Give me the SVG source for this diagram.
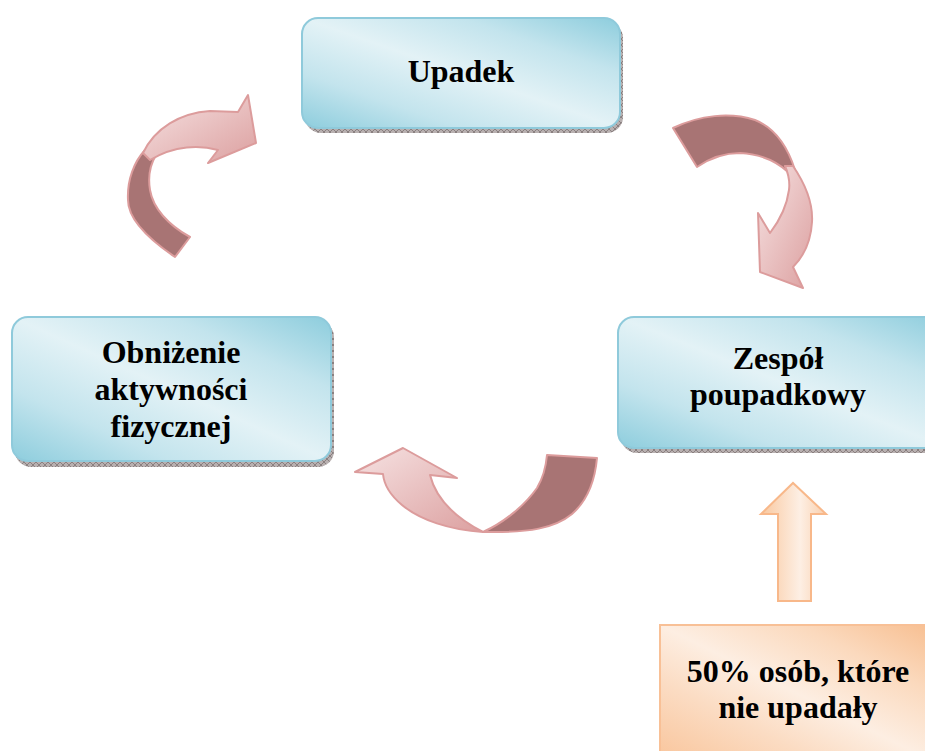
<svg xmlns="http://www.w3.org/2000/svg" width="925" height="751" viewBox="0 0 925 751">
<style>
.box{stroke:#8fcadb;stroke-width:2;fill:url(#blueG)}
.shadow{fill:url(#hatch)}
.lbl{font-family:'Liberation Serif',serif;font-weight:700;font-size:32px;fill:#000;text-anchor:middle}
.dark{fill:#a87474;stroke:#dc9c9c;stroke-width:2;stroke-linejoin:round}
.light{fill:url(#pinkG);stroke:#dc9c9c;stroke-width:2;stroke-linejoin:round}
</style>
<defs>
<linearGradient id="blueG" x1="0" y1="1" x2="1" y2="0">
<stop offset="0" stop-color="#8dcddd"/>
<stop offset="0.25" stop-color="#c3e4ed"/>
<stop offset="0.5" stop-color="#e3f2f6"/>
<stop offset="0.75" stop-color="#c3e4ed"/>
<stop offset="1" stop-color="#8dcddd"/>
</linearGradient>
<linearGradient id="orangeG" x1="0" y1="1" x2="1" y2="0">
<stop offset="0" stop-color="#f9c49a"/>
<stop offset="0.3" stop-color="#fbdcc3"/>
<stop offset="0.5" stop-color="#fdeee2"/>
<stop offset="0.75" stop-color="#fbd9bd"/>
<stop offset="1" stop-color="#f7bd8e"/>
</linearGradient>
<linearGradient id="orangeA" x1="0" y1="0" x2="1" y2="0">
<stop offset="0" stop-color="#f9c89f"/>
<stop offset="0.6" stop-color="#fdefe4"/>
<stop offset="1" stop-color="#f9cfad"/>
</linearGradient>
<linearGradient id="pinkG" x1="0" y1="0" x2="1" y2="1">
<stop offset="0" stop-color="#f6e2e2"/>
<stop offset="1" stop-color="#dca0a0"/>
</linearGradient>
<pattern id="hatch" width="6" height="6" patternUnits="userSpaceOnUse">
<rect width="6" height="6" fill="#b8b0b0"/>
<path d="M0 0L6 6M6 0L0 6" stroke="#7d7373" stroke-width="0.8"/>
</pattern>
</defs>

<g id="connectors">
<g id="arrow-left-top">
<path class="dark" d="M175,257 C150,240 128,220 128,200 C127,180 134,162 145,150 L156,155 C150,165 148,178 150,190 C153,208 168,225 190,237 Z"/>
<path class="light" d="M143,153 C155,128 180,113 210,111 L238,112 L248,95 L256,143 L208,163 L218,150 C200,145 175,145 150,160 Z"/>
</g>
<g id="arrow-right-top">
<path class="dark" d="M673,128 C700,115 730,112 755,120 C775,128 788,148 795,170 L788,172 C775,160 760,154 740,153 C725,153 710,158 697,167 Z"/>
<path class="light" d="M793,166 C806,185 813,205 812,222 C811,240 805,255 793,267 L803,288 L760,272 L758,213 L770,233 C780,220 787,205 789,190 C790,182 789,175 785,166 Z"/>
</g>
<g id="arrow-bottom">
<path class="dark" d="M547,455 L597,458 C595,480 588,500 572,514 C555,528 530,533 483,532 C505,522 525,505 537,488 C543,478 546,466 547,455 Z"/>
<path class="light" d="M483,532 C450,530 420,520 402,505 C390,495 384,485 383,474 L355,472 L403,448 L457,478 L430,475 C435,495 450,515 483,532 Z"/>
</g>
<g id="arrow-up">
<path d="M778,601 L811,601 L811,514 L826,514 L793,483 L761,514 L778,514 Z" fill="url(#orangeA)" stroke="#f8b88a" stroke-width="2" stroke-linejoin="miter"/>
</g>
</g>

<g id="node-upadek">
<rect class="shadow" x="305" y="22" width="318" height="111" rx="16"/>
<rect class="box" x="302" y="18" width="318" height="110" rx="16"/>
<text class="lbl" x="461" y="82">Upadek</text>
</g>

<g id="node-obnizenie">
<rect class="shadow" x="15" y="321" width="319" height="146" rx="16"/>
<rect class="box" x="12" y="317" width="319" height="144" rx="16"/>
<text class="lbl" x="171" y="363">Obniżenie</text>
<text class="lbl" x="171" y="400">aktywności</text>
<text class="lbl" x="171" y="437">fizycznej</text>
</g>

<g id="node-zespol">
<rect class="shadow" x="621" y="321" width="330" height="132" rx="16"/>
<rect class="box" x="618" y="317" width="330" height="131" rx="16"/>
<text class="lbl" x="778" y="369">Zespół</text>
<text class="lbl" x="778" y="405">poupadkowy</text>
</g>

<g id="node-50">
<rect x="660" y="625" width="280" height="140" fill="url(#orangeG)" stroke="#f8c096" stroke-width="2"/>
<text class="lbl" x="798" y="682">50% osób, które</text>
<text class="lbl" x="798" y="718">nie upadały</text>
</g>
</svg>
